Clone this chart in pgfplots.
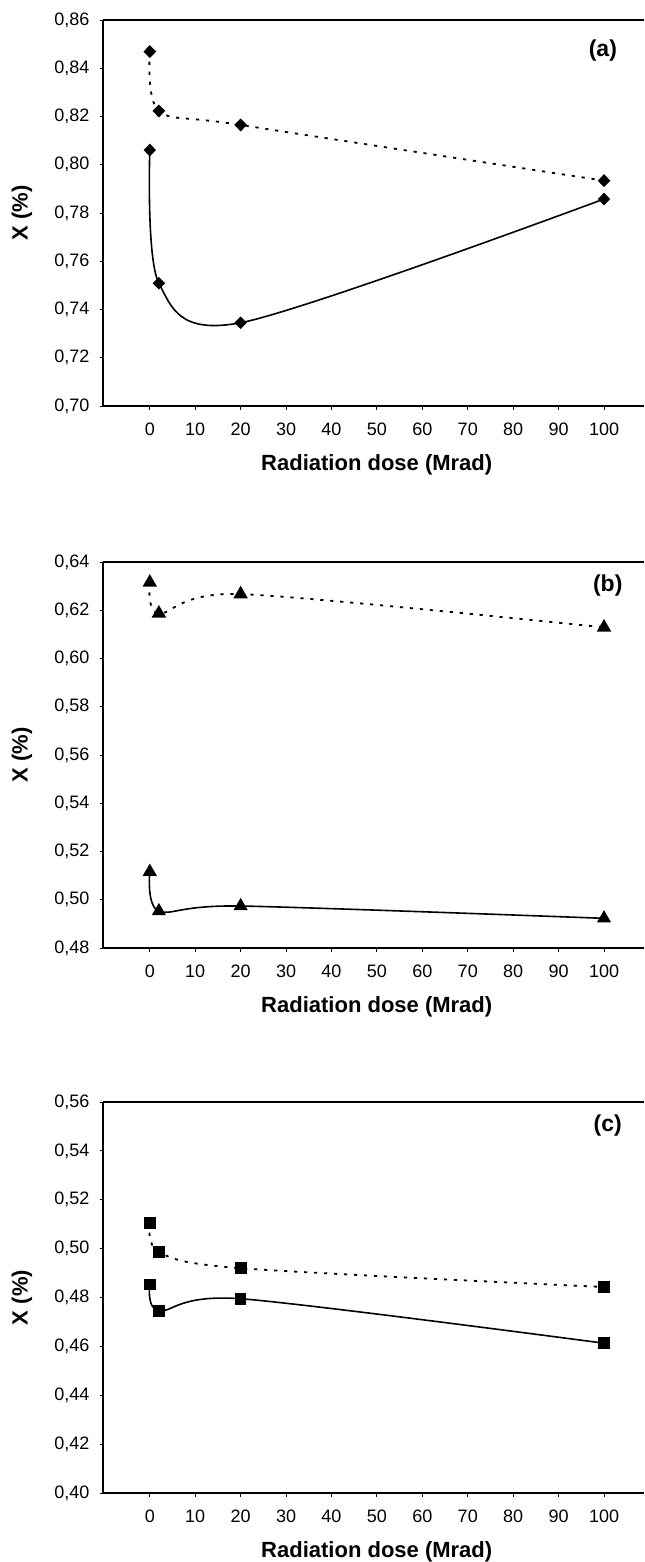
\documentclass[border=0pt]{standalone}
\usepackage{fontspec}
\setmainfont{Liberation Sans}
\usepackage{pgfplots}
\pgfplotsset{compat=1.18}
\tikzset{plabel/.style={font=\bfseries\fontsize{11.5}{13}\selectfont}}
\pgfplotsset{
  panel/.style={
    scale only axis, width=270.5pt, height=193pt, anchor=south west,
    xmin=-10.3, xmax=108.8,
    axis x line*=box, axis y line*=left,
    xtick pos=left, ytick pos=left,
    xtick={0,10,20,30,40,50,60,70,80,90,100},
    tick align=outside, major tick length=1.75pt,
    axis line style={line width=1pt},
    every tick/.style={black, line width=0.5pt},
    tick label style={font=\fontsize{9}{10}\selectfont},
    /pgf/number format/assume math mode=true,
    scaled y ticks=false,
    yticklabel style={xshift=-1.5pt, /pgf/number format/fixed, /pgf/number format/fixed zerofill, /pgf/number format/precision=2, /pgf/number format/use comma},
    xticklabel style={yshift=-3pt},
    xlabel={Radiation dose (Mrad)}, ylabel={X (\%)},
    label style={font=\bfseries\fontsize{11}{13}\selectfont},
    xlabel style={at={(axis description cs:0.506,-0.1528)},anchor=center},
    ylabel style={at={(axis description cs:-0.1497,0.5)},anchor=center},
  },
  dotser/.style={black, line width=0.9pt, dash pattern=on 1.6pt off 3.4pt, smooth, tension=0.5},
  solser/.style={black, line width=0.8pt, smooth, tension=0.5},
  dmark/.style={mark=diamond*, mark size=2.6pt, mark options={solid, fill=black, xscale=1.3}},
  tmark/.style={mark=triangle*, mark size=3.3pt, mark options={solid, fill=black}},
  smark/.style={mark=square*, mark size=2.5pt, mark options={solid, fill=black}},
}
\begin{document}
\begin{tikzpicture}
% (a)
\begin{axis}[panel, at={(51.5pt,-203pt)}, ymin=0.70, ymax=0.86,
  ytick={0.70,0.72,0.74,0.76,0.78,0.80,0.82,0.84,0.86}]
\addplot[dotser, dmark] coordinates {(0,0.8469) (2,0.8223) (20,0.8165) (100,0.7934)};
\addplot[solser, dmark] coordinates {(0,0.8061) (2,0.7509) (20,0.7345) (100,0.7858)};
\node[plabel] at (rel axis cs:0.924,0.922) {(a)};
\end{axis}
% (b)
\begin{axis}[panel, at={(51.5pt,-474pt)}, ymin=0.48, ymax=0.64,
  ytick={0.48,0.50,0.52,0.54,0.56,0.58,0.60,0.62,0.64}]
\addplot[dotser, tmark] coordinates {(0,0.6315) (2,0.6187) (20,0.6267) (100,0.6129)};
\addplot[solser, tmark] coordinates {(0,0.5116) (2,0.4953) (20,0.4974) (100,0.4923)};
\node[plabel] at (rel axis cs:0.933,0.939) {(b)};
\end{axis}
% (c)
\begin{axis}[panel, at={(51.5pt,-746.5pt)}, height=195.5pt, ymin=0.40, ymax=0.56,
  ytick={0.40,0.42,0.44,0.46,0.48,0.50,0.52,0.54,0.56},
  xlabel style={at={(axis description cs:0.506,-0.1509)}}]
\addplot[dotser, smark] coordinates {(0,0.5106) (2,0.4986) (20,0.4920) (100,0.4843)};
\addplot[solser, smark] coordinates {(0,0.4854) (2,0.4745) (20,0.4795) (100,0.4613)};
\node[plabel] at (rel axis cs:0.933,0.941) {(c)};
\end{axis}
\pgfresetboundingbox
\useasboundingbox (0,0) rectangle (322pt,-781pt);
\end{tikzpicture}
\end{document}
